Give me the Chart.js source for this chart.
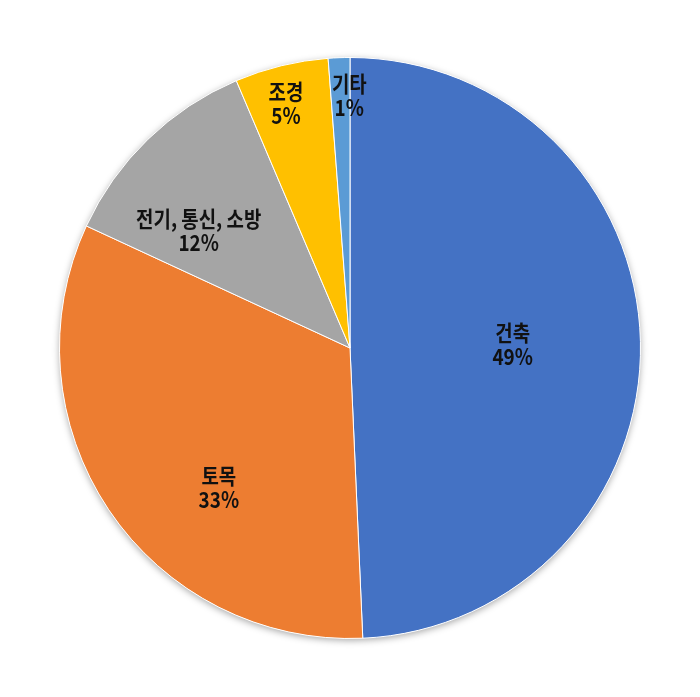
<!DOCTYPE html>
<html>
<head>
<meta charset="utf-8">
<script src="https://cdn.jsdelivr.net/npm/chart.js@4/dist/chart.umd.min.js"></script>
<style>
  html, body { margin: 0; padding: 0; background: #fff; }
  #wrap { width: 700px; height: 697px; position: relative; }
</style>
</head>
<body>
<div id="wrap"><canvas id="myChart"></canvas></div>
<script>
// slice sizes (percent); the labels show them rounded
const categories = ['건축', '토목', '전기, 통신, 소방', '조경', '기타'];
const shares = [49.3, 32.6, 11.7, 5.2, 1.2];
const colors = ['#4472C4', '#ED7D31', '#A5A5A5', '#FFC000', '#5B9BD5'];

// where each label sits: fraction of the radius and a nudge of the angle (deg)
const labelSpots = [
    { r: 0.56, turn: 0 },
    { r: 0.66, turn: -13 },
    { r: 0.66, turn: -8 },
    { r: 0.87, turn: -1 },
    { r: 0.87, turn: 2 },
];

const pieShadow = {
    id: 'pieShadow',
    beforeDatasetsDraw(chart) {
        const arc = chart.getDatasetMeta(0).data[0];
        if (!arc) return;
        const ctx = chart.ctx;
        ctx.save();
        ctx.shadowColor = 'rgba(0,0,0,0.35)';
        ctx.shadowBlur = 7;
        ctx.shadowOffsetY = 2;
        ctx.fillStyle = '#fff';
        ctx.beginPath();
        ctx.arc(arc.x, arc.y, arc.outerRadius, 0, Math.PI * 2);
        ctx.fill();
        ctx.restore();
    },
};

const sliceLabels = {
    id: 'sliceLabels',
    afterDatasetsDraw(chart) {
        const ctx = chart.ctx;
        const meta = chart.getDatasetMeta(0);
        meta.data.forEach((arc, i) => {
            const spot = labelSpots[i];
            const mid = (arc.startAngle + arc.endAngle) / 2 + spot.turn * Math.PI / 180;
            const rr = arc.outerRadius * spot.r;
            const x = arc.x + Math.cos(mid) * rr;
            const y = arc.y + Math.sin(mid) * rr;
            ctx.save();
            ctx.translate(x, y);
            ctx.scale(0.9, 1.05);
            ctx.fillStyle = '#111';
            ctx.textAlign = 'center';
            ctx.textBaseline = 'middle';
            ctx.font = 'bold 21px "Noto Sans CJK KR", sans-serif';
            ctx.fillText(categories[i], 0, -11.5);
            ctx.fillText(Math.round(shares[i]) + '%', 0, 11.5);
            ctx.restore();
        });
    },
};

const ctx = document.getElementById('myChart').getContext('2d');
const myChart = new Chart(ctx, {
    type: 'pie',
    data: {
        labels: categories,
        datasets: [
            {
                data: shares,
                backgroundColor: colors,
                borderColor: '#ffffff',
                borderWidth: 1,
            },
        ],
    },
    options: {
        responsive: true,
        maintainAspectRatio: false,
        animation: false,
        layout: {
            padding: { left: 59, right: 59, top: 57, bottom: 58 },
        },
        plugins: {
            legend: { display: false },
            tooltip: { enabled: false },
        },
    },
    plugins: [pieShadow, sliceLabels],
});
</script>
</body>
</html>
